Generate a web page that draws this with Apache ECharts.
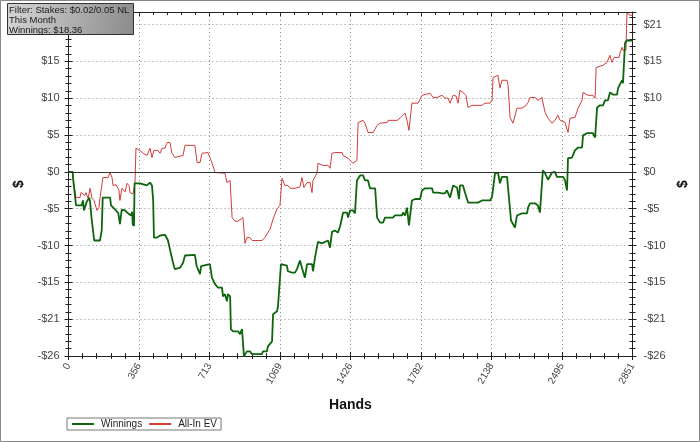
<!DOCTYPE html>
<html><head><meta charset="utf-8">
<script src="https://cdn.jsdelivr.net/npm/echarts@6/dist/echarts.min.js"></script>
<style>html,body{margin:0;padding:0;background:#fff}#c{width:700px;height:442px}</style>
</head><body><div id="c"></div>
<script>
// ---- data ----
const xTickLabels = ['0','356','713','1069','1426','1782','2138','2495','2851'];
const yTickLabels = ['-$26','-$21','-$15','-$10','-$5','$0','$5','$10','$15','$21'];
const seriesNames = ['Winnings','All-In EV'];
const filterLines = ['Filter: Stakes: $0.02/0.05 NL','This Month','Winnings: $18.36'];

const winHands = [0,21,23,33,38,67,73,78,83,92,105,109,117,124,130,159,168,173,210,215,240,252,260,269,286,301,316,322,325,328,331,334,361,395,412,422,428,432,446,463,488,503,518,533,538,564,579,589,639,648,665,670,715,725,741,756,776,781,791,801,806,817,821,832,857,867,877,887,902,917,928,978,983,1003,1008,1029,1034,1054,1059,1074,1084,1104,1109,1130,1145,1155,1170,1180,1190,1195,1206,1231,1236,1246,1261,1281,1312,1322,1332,1347,1362,1373,1388,1408,1413,1423,1438,1448,1458,1474,1489,1499,1514,1524,1550,1560,1575,1590,1600,1640,1650,1686,1691,1701,1711,1721,1736,1752,1777,1787,1802,1838,1843,1868,1888,1903,1913,1929,1944,1964,1969,1974,1979,1994,2004,2020,2070,2090,2131,2141,2156,2171,2181,2191,2217,2222,2237,2257,2267,2292,2318,2323,2333,2358,2373,2383,2398,2409,2424,2444,2459,2469,2500,2510,2520,2525,2545,2560,2576,2596,2601,2621,2651,2662,2672,2687,2702,2712,2727,2737,2753,2773,2778,2798,2803,2813,2823,2851];
const winValues = [0,0,-0.9,-0.9,-4.7,-4.7,-4.0,-5.4,-5.4,-4.2,-3.6,-4.2,-6.6,-6.6,-9.6,-9.6,-8.2,-3.6,-3.6,-4.7,-5.4,-5.8,-7.3,-5.3,-5.4,-5.8,-6.1,-5.6,-7.5,-5.9,-7.6,-1.6,-1.6,-1.9,-1.5,-1.9,-4.0,-9.2,-9.2,-8.9,-8.8,-9.6,-11.5,-13.2,-13.6,-13.4,-12.7,-11.7,-11.6,-13.2,-14.3,-13.2,-12.9,-14.8,-15.7,-16.2,-16.2,-17.4,-17.1,-18.1,-17.1,-17.4,-22.0,-22.3,-22.3,-22.7,-22.0,-25.8,-25.1,-25.1,-25.5,-25.5,-25.1,-25.1,-24.4,-23.7,-19.9,-19.5,-18.8,-12.9,-13.1,-13.1,-13.9,-14.1,-14.1,-13.6,-12.4,-13.4,-13.6,-14.8,-12.9,-12.9,-13.9,-12.0,-9.8,-10.0,-9.6,-10.6,-8.4,-8.2,-8.5,-7.6,-5.7,-5.7,-6.4,-5.4,-5.4,-5.8,-1.2,-0.5,-0.5,-1.2,-1.2,-2.3,-2.3,-6.4,-7.1,-7.1,-6.4,-6.4,-6.1,-6.1,-5.7,-6.1,-5.0,-7.5,-4.0,-3.8,-3.8,-2.6,-2.3,-2.3,-2.9,-2.9,-3.0,-3.0,-2.6,-3.6,-1.9,-2.2,-2.2,-3.8,-1.9,-1.9,-2.9,-4.3,-4.3,-4.0,-4.0,-3.5,-0.2,-0.1,-1.6,-0.7,-0.7,-0.9,-6.8,-7.8,-6.1,-5.8,-5.8,-5.0,-4.4,-4.4,-4.7,-5.7,0.2,-0.2,-1.1,-0.1,0,-0.7,-0.7,-1.2,-2.6,1.9,2.0,3.0,3.4,3.4,5.1,5.4,5.4,4.8,9.0,9.3,9.3,10.0,10.0,11.1,10.8,10.8,11.7,12.8,12.4,18.0,18.4,18.36];

const evHands = [0,21,23,33,38,58,63,73,83,88,99,109,119,129,144,149,154,159,174,200,210,220,225,240,250,255,260,270,286,296,306,311,326,336,341,361,377,397,412,422,432,452,463,473,488,498,513,523,538,579,589,639,650,665,675,705,715,725,741,791,801,806,817,827,842,857,867,882,892,902,917,928,978,993,1003,1019,1034,1054,1069,1079,1094,1109,1120,1145,1170,1180,1190,1206,1221,1231,1236,1256,1261,1287,1312,1322,1332,1347,1383,1388,1413,1423,1438,1458,1464,1489,1499,1514,1540,1560,1575,1611,1616,1661,1676,1686,1701,1711,1721,1736,1767,1787,1828,1843,1863,1888,1903,1918,1929,1944,1959,1969,1979,1994,2009,2020,2040,2090,2105,2131,2141,2146,2156,2171,2181,2191,2217,2222,2232,2247,2267,2292,2313,2323,2333,2358,2373,2393,2409,2424,2444,2459,2474,2485,2510,2525,2535,2560,2576,2596,2601,2626,2651,2662,2667,2702,2722,2737,2747,2758,2783,2788,2798,2803,2818,2823,2838,2851];
const evValues = [0,0,-0.9,-0.9,-3.6,-3.6,-2.9,-2.9,-3.3,-2.9,-3.7,-2.3,-3.7,-4.0,-5.4,-5.4,-5.0,-3.7,-0.8,-0.8,-0.1,-0.8,-1.9,-1.8,-2.3,-2.6,-4.0,-2.3,-2.8,-1.6,-1.9,-2.9,-3.1,-1.6,3.3,3.0,2.6,2.3,3.3,2.0,3.0,3.0,2.6,3.3,3.3,4.1,4.1,2.6,2.0,2.3,3.7,3.7,1.3,1.3,2.6,2.7,2.6,1.3,-0.1,-0.2,-1.5,-1.6,-1.2,-6.4,-6.9,-6.9,-7.1,-6.4,-10.0,-9.2,-9.2,-9.6,-9.6,-9.2,-8.7,-8.0,-6.6,-5.2,-4.7,-0.9,-1.9,-1.9,-2.3,-2.3,-2.1,-0.8,-2.2,-1.5,-1.5,-2.9,-1.2,-0.2,1.2,0.9,0.9,0.5,2.6,2.7,2.7,2.3,1.9,2.0,1.2,1.6,6.9,7.2,6.8,5.5,5.5,6.5,6.8,6.9,7.2,7.2,7.5,7.6,8.2,7.2,5.8,9.6,9.6,10.7,11.0,10.4,10.4,10.7,10.3,10.3,9.6,10.7,10.6,9.6,11.4,11.1,10.7,9.0,9.3,9.3,9.6,9.6,10.0,13.2,13.2,13.5,11.7,12.8,12.8,12.1,7.6,6.8,8.9,8.9,9.3,9.7,10.4,10.4,10.0,10.4,8.3,7.5,6.8,7.2,7.9,7.2,6.9,5.5,7.5,7.6,8.9,10.0,11.1,10.7,10.7,10.3,14.6,14.9,15.3,16.3,15.3,16.0,16.0,16.6,17.4,17.0,17.0,22.2,21.9,21.9];

// ---- scales ----
const X_MIN = 0, X_MAX = 2851, X_STEP = 2851 / 8;
const Y_STEP = 5.15, Y_MIN = -5 * Y_STEP, Y_MAX = 22.35;
const zip = (a, b) => a.map((v, i) => [v, b[i]]);

const AX = '#222';
const FONT = 'Liberation Sans, Arial, sans-serif';
const LABEL = {fontFamily: FONT, fontSize: 11, color: '#444'};
const yFmt = v => { const i = Math.round((v - Y_MIN) / Y_STEP); return yTickLabels[i] || ''; };
const xFmt = v => { const i = Math.round((v - X_MIN) / X_STEP); return xTickLabels[i] || ''; };

function xAx(pos, inside, labels, extra) {
  return Object.assign({
    type: 'value', position: pos, min: X_MIN, max: X_MAX, interval: X_STEP,
    axisLine: {show: true, onZero: false, lineStyle: {color: AX, width: 1}},
    axisTick: {show: true, inside: inside, length: 4, lineStyle: {color: AX}},
    minorTick: {show: true, splitNumber: 5, length: 3, lineStyle: {color: AX}},
    axisLabel: {show: labels},
    splitLine: {show: false}
  }, extra || {});
}
function yAx(pos, inside, labels, extra) {
  return Object.assign({
    type: 'value', position: pos, min: Y_MIN, max: Y_MAX, interval: Y_STEP,
    axisLine: {show: true, onZero: false, lineStyle: {color: AX, width: 1}},
    axisTick: {show: true, inside: inside, length: 4, lineStyle: {color: AX}},
    minorTick: {show: true, splitNumber: 5, length: 3, lineStyle: {color: AX}},
    axisLabel: {show: labels},
    splitLine: {show: false}
  }, extra || {});
}

const chart = echarts.init(document.getElementById('c'), null, {renderer: 'canvas'});
chart.setOption({
  animation: false,
  backgroundColor: '#fff',
  textStyle: {fontFamily: FONT},
  grid: {left: 68.5, right: 67.5, top: 12, bottom: 86, containLabel: false},
  xAxis: [
    xAx('bottom', false, true, {
      axisLabel: Object.assign({show: true, rotate: 60, margin: 8, interval: 0, formatter: xFmt}, LABEL, {fontSize: 10}),
      splitLine: {show: true, lineStyle: {type: [1, 3], color: '#888', width: 1}},
      name: 'Hands', nameLocation: 'middle', nameGap: 42,
      nameTextStyle: {fontWeight: 'bold', fontSize: 14, color: '#111', fontFamily: FONT}
    }),
    xAx('bottom', true, false, {axisLine: {show: false, onZero: false}}),
    xAx('top', true, false)
  ],
  yAxis: [
    yAx('left', false, true, {
      axisLabel: Object.assign({show: true, margin: 9, interval: 0, showMaxLabel: false, formatter: yFmt}, LABEL),
      splitLine: {show: true, lineStyle: {type: [1, 3], color: '#888', width: 1}},
      name: '$', nameLocation: 'middle', nameGap: 36, nameRotate: 90,
      nameTextStyle: {fontWeight: 'bold', fontSize: 14, color: '#111'}
    }),
    yAx('right', false, true, {
      axisLabel: Object.assign({show: true, margin: 11, interval: 0, showMaxLabel: false, formatter: yFmt}, LABEL),
      name: '$', nameLocation: 'middle', nameGap: 40, nameRotate: 90,
      nameTextStyle: {fontWeight: 'bold', fontSize: 14, color: '#111'}
    }),
    yAx('left', true, false, {axisLine: {show: false, onZero: false}}),
    yAx('right', true, false, {axisLine: {show: false, onZero: false}})
  ],
  legend: {
    data: seriesNames, left: 67, top: 418,
    borderColor: '#777', borderWidth: 1, borderRadius: 0,
    padding: [1, 4, 1, 4], itemGap: 6, itemWidth: 22, itemHeight: 2,
    textStyle: {fontSize: 10, color: '#222', fontFamily: FONT, padding: [0, 0, 0, 2]}
  },
  series: [
    {
      name: seriesNames[1], type: 'line', symbol: 'none', showSymbol: false,
      data: zip(evHands, evValues), xAxisIndex: 0, yAxisIndex: 0,
      lineStyle: {color: '#d23c3c', width: 1}, itemStyle: {color: '#d23c3c'}, z: 3,
      markLine: {silent: true, symbol: 'none', label: {show: false},
        lineStyle: {color: '#333', type: 'solid', width: 1}, data: [{yAxis: 0}]}
    },
    {
      name: seriesNames[0], type: 'line', symbol: 'none', showSymbol: false,
      data: zip(winHands, winValues), xAxisIndex: 0, yAxisIndex: 0,
      lineStyle: {color: '#0d650d', width: 1.8}, itemStyle: {color: '#0d650d'}, z: 4
    }
  ],
  graphic: [
    {type: 'rect', z: 50, silent: true, shape: {x: 0.5, y: 0.5, width: 699, height: 441},
      style: {fill: 'none', stroke: '#888', lineWidth: 1}},
    {type: 'rect', z: 100, silent: true, shape: {x: 7.5, y: 3.5, width: 126, height: 31},
      style: {fill: new echarts.graphic.LinearGradient(0, 0, 1, 1, [
        {offset: 0, color: '#d6d6d6'}, {offset: 1, color: '#8a8a8a'}]), stroke: '#333', lineWidth: 1}},
    {type: 'text', z: 101, silent: true, x: 9, y: 10, style: {text: filterLines[0], fill: '#1a1a1a', verticalAlign: 'middle', font: '9.5px Liberation Sans, Arial, sans-serif'}},
    {type: 'text', z: 101, silent: true, x: 9, y: 20.5, style: {text: filterLines[1], fill: '#1a1a1a', verticalAlign: 'middle', font: '9.5px Liberation Sans, Arial, sans-serif'}},
    {type: 'text', z: 101, silent: true, x: 9, y: 30.5, style: {text: filterLines[2], fill: '#1a1a1a', verticalAlign: 'middle', font: '9.5px Liberation Sans, Arial, sans-serif'}}
  ]
});
</script></body></html>
